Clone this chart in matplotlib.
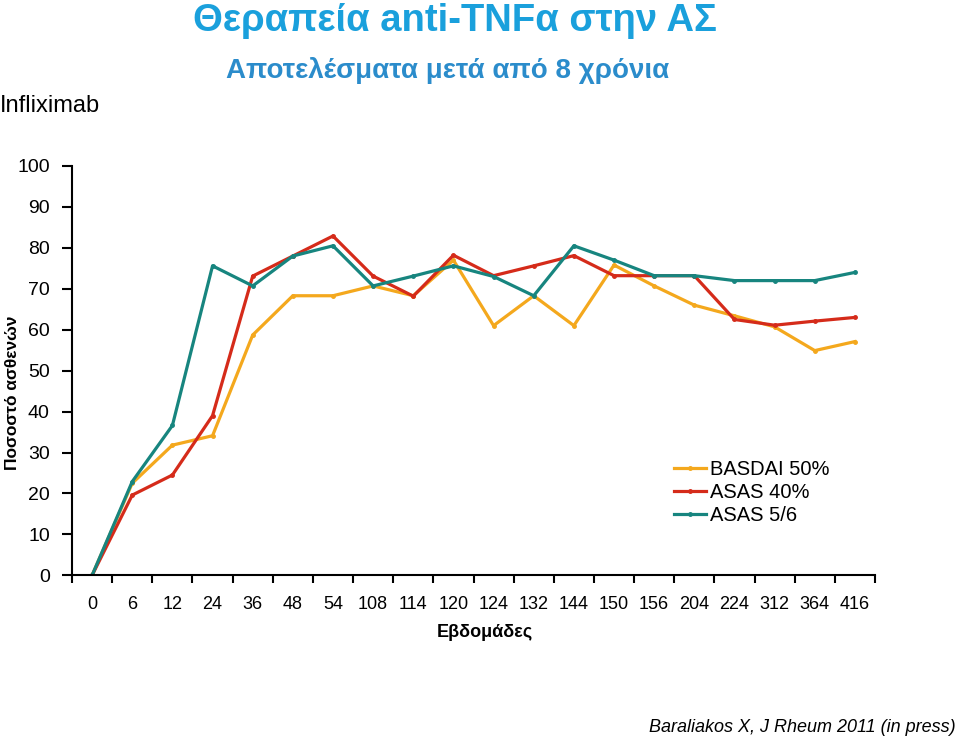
import numpy as np
import matplotlib
matplotlib.use("Agg")
import matplotlib.pyplot as plt

plt.rcParams['font.family'] = ['Liberation Sans', 'DejaVu Sans']

# weeks on the x axis (categories)
weeks = ["0", "6", "12", "24", "36", "48", "54", "108", "114", "120",
         "124", "132", "144", "150", "156", "204", "224", "312", "364", "416"]

# percent of patients
basdai50 = [0, 22.5, 31.8, 34.1, 58.7, 68.3, 68.3, 70.7, 68.3, 77.0,
            61.0, 68.3, 61.0, 75.8, 70.7, 66.0, 63.4, 60.7, 54.9, 57.1]
asas40 = [0, 19.6, 24.5, 39.0, 73.1, 78.0, 82.9, 73.1, 68.2, 78.2,
          73.2, 75.6, 78.1, 73.2, 73.2, 73.2, 62.5, 61.1, 62.1, 63.0]
asas56 = [0, 22.9, 36.6, 75.6, 70.7, 78.0, 80.5, 70.7, 73.1, 75.6,
          73.0, 68.3, 80.5, 77.0, 73.2, 73.2, 72.0, 72.0, 72.0, 74.0]

fig = plt.figure(figsize=(9.59, 7.41), dpi=100)
ax = fig.add_axes([0.0751, 0.2236, 0.8373, 0.5524])

x = np.arange(len(weeks))
ax.plot(x, basdai50, color="#F4A81D", lw=2.3, marker="o", ms=2.5, label="BASDAI 50%")
ax.plot(x, asas40, color="#D52B1A", lw=2.3, marker="o", ms=2.5, label="ASAS 40%")
ax.plot(x, asas56, color="#17857F", lw=2.3, marker="o", ms=2.5, label="ASAS 5/6")

ax.set_xlim(-0.5, len(weeks) - 0.5)
ax.set_ylim(0, 100)
ax.set_yticks(range(0, 101, 10))
ax.tick_params(axis="y", labelsize=14, length=7, width=1.5, pad=9)

# ticks between categories, labels at category centres
ax.set_xticks(np.arange(-0.5, len(weeks), 1))
ax.set_xticklabels([])
ax.set_xticks(x, minor=True)
ax.set_xticklabels(weeks, minor=True, fontsize=13)
ax.tick_params(axis="x", which="major", length=6, width=1.5)
ax.tick_params(axis="x", which="minor", length=0, pad=15)

for s in ["top", "right"]:
    ax.spines[s].set_visible(False)
ax.spines["left"].set_linewidth(1.5)
ax.spines["bottom"].set_linewidth(1.5)
ax.spines["left"].set_bounds(0, 100)

ax.set_xlabel("Εβδομάδες", fontsize=13, fontweight="bold")
ax.xaxis.set_label_coords(0.514, -0.118)

ax.legend(loc="upper left", bbox_to_anchor=(0.74, 0.302), frameon=False, fontsize=14.5,
          handlelength=1.6, handletextpad=0.15, labelspacing=0.2, borderaxespad=0)

# titles and notes
fig.text(0.474, 0.972, "Θεραπεία anti-TNFα στην ΑΣ", ha="center", va="center",
         fontsize=27.5, fontweight="bold", color="#1AA0DC")
fig.text(0.467, 0.905, "Αποτελέσματα μετά από 8 χρόνια", ha="center", va="center",
         fontsize=20, fontweight="bold", color="#2B8CCB")
fig.text(0.0, 0.857, "Infliximab", ha="left", va="center", fontsize=17)
fig.text(0.013, 0.47, "Ποσοστό ασθενών", ha="center", va="center", rotation=90,
         fontsize=12.5, fontweight="bold")
fig.text(0.997, 0.018, "Baraliakos X, J Rheum 2011 (in press)", ha="right", va="center",
         fontsize=13, style="italic")

fig.savefig("out.png", dpi=100)
